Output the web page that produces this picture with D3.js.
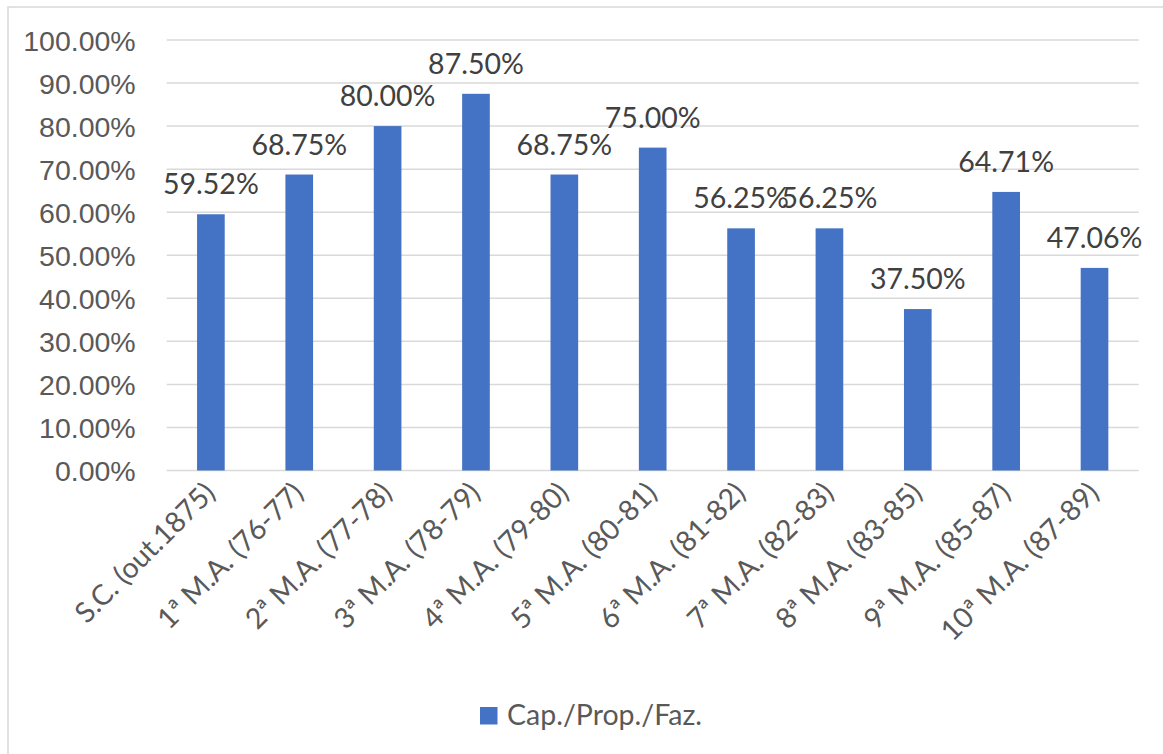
<!DOCTYPE html>
<html>
<head>
<meta charset="utf-8">
<script src="https://cdn.jsdelivr.net/npm/d3@7"></script>
<style>
  body { margin: 0; background: #fff; }
  svg { display: block; font-family: Lato, "Open Sans", sans-serif; }
</style>
</head>
<body>
<div id="chart"></div>
<script>
// data
var categories = ["S.C. (out.1875)", "1ª M.A. (76-77)", "2ª M.A. (77-78)", "3ª M.A. (78-79)", "4ª M.A. (79-80)",
    "5ª M.A. (80-81)", "6ª M.A. (81-82)", "7ª M.A. (82-83)", "8ª M.A. (83-85)", "9ª M.A. (85-87)", "10ª M.A. (87-89)"];
var values = [59.52, 68.75, 80.00, 87.50, 68.75, 75.00, 56.25, 56.25, 37.50, 64.71, 47.06];
var yTicks = [0, 10, 20, 30, 40, 50, 60, 70, 80, 90, 100];
var seriesName = "Cap./Prop./Faz.";

var W = 1163, H = 754;
var fs = 28.5;
var margin = {top: 40, right: 24, bottom: 283.5, left: 166.7};
var width = 1138.7 - margin.left;
var height = 470.5 - margin.top;

var svg = d3.select("#chart").append("svg").attr("width", W).attr("height", H);

// chart border
svg.append("rect").attr("x", 8).attr("y", 7).attr("width", 1165).attr("height", 760)
    .attr("fill", "none").attr("stroke", "#d9d9d9").attr("stroke-width", 1.5);

var g = svg.append("g").attr("transform", "translate(" + margin.left + "," + margin.top + ")");

var x = d3.scaleBand().domain(categories).range([0, width]).paddingInner(0.687).paddingOuter(0.3435);
var y = d3.scaleLinear().domain([0, 100]).range([height, 0]);

// gridlines
g.selectAll(".grid").data(yTicks).join("line").attr("class", "grid")
    .attr("x1", 0).attr("x2", width)
    .attr("y1", d => y(d)).attr("y2", d => y(d))
    .attr("stroke", "#d9d9d9").attr("stroke-width", 1.5);

// y axis labels
var yAxis = g.append("g").call(d3.axisLeft(y).tickValues(yTicks).tickSize(0).tickPadding(31)
    .tickFormat(d => d.toFixed(2) + "%"));
yAxis.select(".domain").remove();
yAxis.selectAll("text").attr("font-size", fs).attr("fill", "#595959").attr("font-family", null).attr("dy", "0.36em");

// bars
g.selectAll(".bar").data(values).join("rect").attr("class", "bar")
    .attr("x", (d, i) => x(categories[i])).attr("width", x.bandwidth())
    .attr("y", d => y(d)).attr("height", d => height - y(d))
    .attr("fill", "#4472c4");

// value labels
g.selectAll(".lbl").data(values).join("text").attr("class", "lbl")
    .attr("x", (d, i) => x(categories[i]) + x.bandwidth() / 2)
    .attr("y", d => y(d) - 20)
    .attr("text-anchor", "middle").attr("font-size", fs).attr("fill", "#404040")
    .text(d => d.toFixed(2) + "%");

// x labels rotated
g.selectAll(".xl").data(categories).join("text").attr("class", "xl")
    .attr("transform", d => "translate(" + (x(d) + x.bandwidth() / 2 + 6) + "," + (height + 24) + ") rotate(-45)")
    .attr("text-anchor", "end").attr("font-size", fs).attr("fill", "#595959")
    .text(d => d);

// legend
var leg = svg.append("g").attr("transform", "translate(480,707)");
leg.append("rect").attr("width", 17.5).attr("height", 17.5).attr("fill", "#4472c4");
leg.append("text").attr("x", 27).attr("y", 17.5).attr("font-size", fs).attr("fill", "#595959").text(seriesName);
</script>
</body>
</html>
